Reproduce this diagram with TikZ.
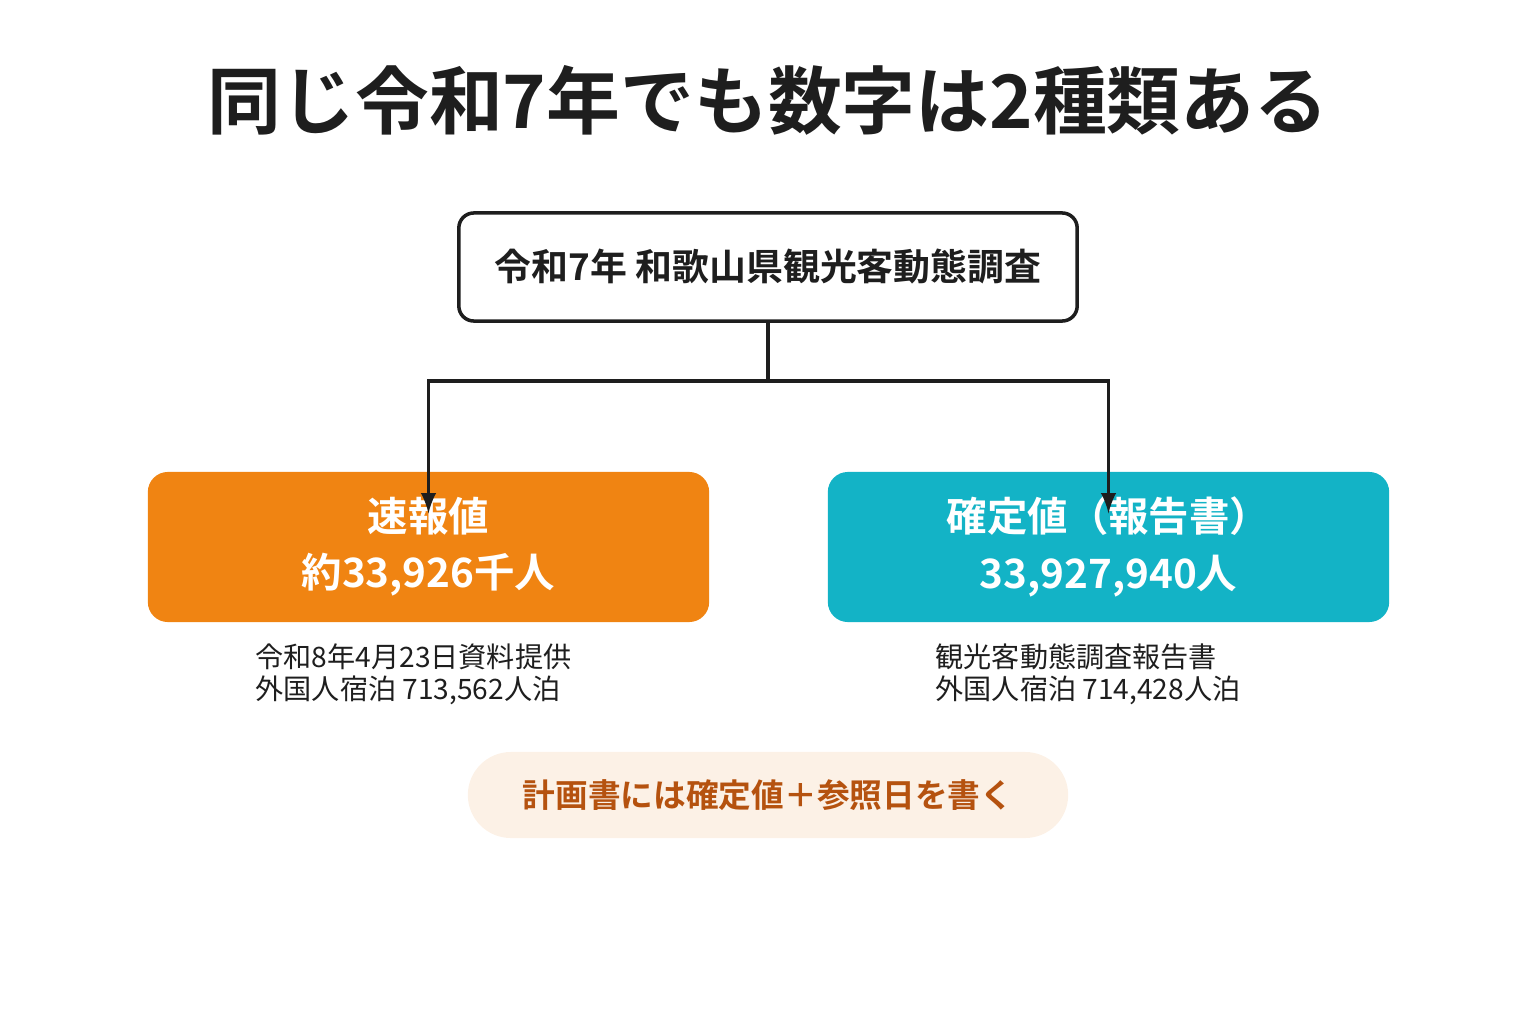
\documentclass[tikz,border=0pt]{standalone}
\usepackage{fontspec}
\setmainfont{Noto Sans CJK JP}
\newfontfamily\jpbold{Noto Sans CJK JP Bold}
\usetikzlibrary{positioning}
\definecolor{sokuho}{HTML}{F08412}
\definecolor{kakutei}{HTML}{13B3C6}
\definecolor{pillbg}{HTML}{FCF1E6}
\definecolor{pilltext}{HTML}{B5520F}
\definecolor{ink}{HTML}{1E1E1E}

\begin{document}
\begin{tikzpicture}[x=0.01cm,y=-0.01cm]
\tikzstyle{result}=[rectangle, rounded corners=2mm, minimum width=5.61cm, minimum height=1.5cm, text=white, align=center, font=\jpbold\fontsize{11.5}{16}\selectfont]
\tikzstyle{note}=[anchor=north west, align=left, inner sep=0pt, text=ink, font=\fontsize{8}{9}\selectfont]
\tikzstyle{connect}=[-latex, line width=1pt, draw=ink]
\useasboundingbox (0,0) rectangle (1536,1024);
  \node (title) at (768,100) [text=ink, font=\jpbold\fontsize{21}{25}\selectfont] {同じ令和7年でも数字は2種類ある};
  \node (survey) at (768,267) [draw=ink, line width=1pt, rounded corners=1.5mm, minimum width=6.18cm, minimum height=1.08cm, inner sep=0pt, text=ink, font=\jpbold\fontsize{10.5}{12}\selectfont] {令和7年\ 和歌山県観光客動態調査};
  \node[result, fill=sokuho] (prelim) at (428.5,547) {速報値\\約33,926千人};
  \node[result, fill=kakutei] (final) at (1108.5,547) {確定値（報告書）\\33,927,940人};
  \node[note] (prelimnote) at (255,643) {令和8年4月23日資料提供\\外国人宿泊 713,562人泊};
  \node[note] (finalnote) at (935,643) {観光客動態調査報告書\\外国人宿泊 714,428人泊};
  \node (advice) at (768,795) [fill=pillbg, rounded corners=4.3mm, minimum width=6cm, minimum height=0.86cm, text=pilltext, font=\jpbold\fontsize{9.3}{11}\selectfont] {計画書には確定値＋参照日を書く};

  \coordinate (split) at (768,381);
  \draw[line width=1pt, ink] (survey.south) -- (split);
  \draw[connect] (split) -| ([yshift=-12]prelim.north);
  \draw[connect] (split) -| ([yshift=-12]final.north);
\end{tikzpicture}
\end{document}
